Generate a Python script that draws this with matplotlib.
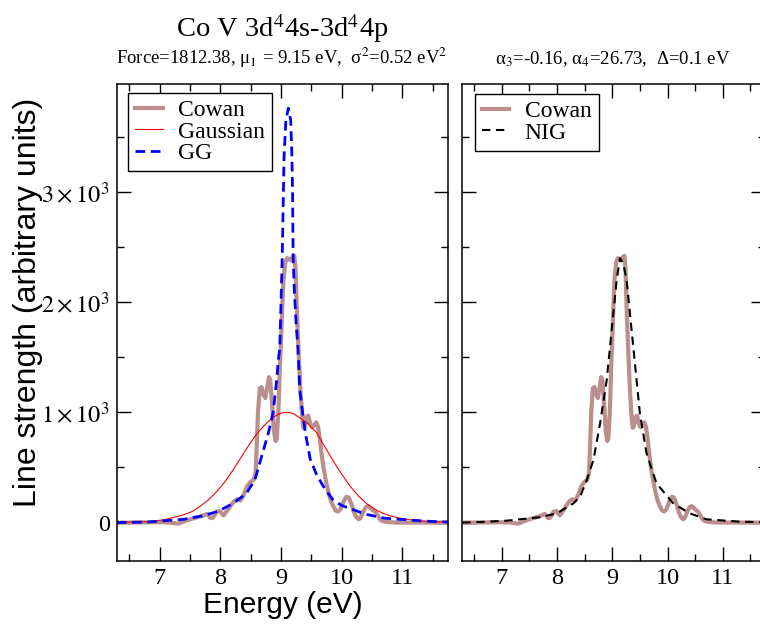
import matplotlib
matplotlib.use('Agg')
import matplotlib.pyplot as plt
from matplotlib.ticker import MultipleLocator, FixedLocator

plt.rcParams['font.family'] = ['Liberation Serif', 'DejaVu Serif']
plt.rcParams['mathtext.fontset'] = 'stix'

# Cowan spectrum (energy in eV, strength)
cowan_e = [6.29, 6.5, 6.8, 7.0, 7.15, 7.3, 7.4, 7.5, 7.6, 7.7, 7.78, 7.84, 7.88, 7.94, 7.99,
           8.05, 8.10, 8.16, 8.22, 8.28, 8.33, 8.38, 8.44, 8.50, 8.55, 8.58, 8.60, 8.62, 8.65,
           8.68, 8.71, 8.74, 8.77, 8.80, 8.82, 8.85, 8.88, 8.91, 8.93, 8.96, 8.98, 9.00, 9.02,
           9.04, 9.07, 9.10, 9.13, 9.16, 9.19, 9.22, 9.24, 9.26, 9.29, 9.32, 9.35, 9.37, 9.39,
           9.42, 9.45, 9.48, 9.51, 9.54, 9.58, 9.61, 9.64, 9.67, 9.70, 9.74, 9.78, 9.82, 9.86,
           9.90, 9.94, 9.98, 10.03, 10.08, 10.12, 10.16, 10.20, 10.24, 10.28, 10.31, 10.35,
           10.40, 10.44, 10.48, 10.52, 10.56, 10.60, 10.64, 10.68, 10.75, 10.9, 11.2, 11.5, 11.76]
cowan_s = [0, 0, 2, 3, 0, -10, 10, 30, 45, 60, 78, 40, 45, 100, 105,
           65, 100, 145, 190, 212, 200, 245, 330, 370, 390, 450, 700, 1000, 1220,
           1230, 1160, 1130, 1220, 1320, 1300, 1100, 850, 740, 760, 1050, 1400, 1650, 1950,
           2200, 2360, 2400, 2390, 2380, 2410, 2420, 2300, 1950, 1550, 1200, 960, 860, 870,
           960, 970, 900, 865, 880, 910, 870, 760, 620, 500, 380, 280, 200, 150,
           110, 100, 120, 190, 235, 225, 170, 100, 50, 30, 40, 90,
           140, 150, 130, 110, 95, 60, 25, 12, 5, 0, 0, 0, 0]

# Gaussian fit
gauss_e = [6.29, 6.6, 6.84, 7.1, 7.39, 7.53, 7.66, 7.8, 7.94, 8.08, 8.21, 8.35, 8.49, 8.62,
           8.76, 8.87, 8.98, 9.05, 9.12, 9.2, 9.31, 9.45, 9.59, 9.72, 9.86, 10.0, 10.14,
           10.28, 10.415, 10.55, 10.69, 10.82, 10.96, 11.1, 11.24, 11.5, 11.76]
gauss_s = [2, 5, 9, 28, 70, 100, 145, 205, 281, 375, 478, 600, 720, 820,
           901, 955, 990, 998, 1000, 990, 950, 895, 815, 690, 560, 440, 330,
           240, 170, 120, 82, 58, 40, 28, 18, 8, 3]

# GG fit
gg_e = [6.29, 6.8, 7.4, 7.7, 7.95, 8.2, 8.43, 8.57, 8.68, 8.79, 8.87, 8.93, 8.955, 8.98,
        9.02, 9.04, 9.05, 9.08, 9.12, 9.16, 9.18, 9.19, 9.20, 9.22, 9.25, 9.28, 9.31, 9.34,
        9.40, 9.48, 9.59, 9.73, 9.86, 10.0, 10.15, 10.4, 10.7, 11.0, 11.25, 11.5, 11.76]
gg_s = [0, 5, 30, 60, 100, 170, 265, 390, 600, 810, 1000, 1300, 1475, 1580,
        2410, 3015, 3317, 3650, 3760, 3650, 3317, 3015, 2410, 2100, 1800, 1580, 1200, 1067,
        820, 580, 430, 300, 205, 155, 125, 75, 40, 28, 18, 10, 5]

# NIG fit
nig_e = [6.29, 6.6, 7.09, 7.69, 8.0, 8.30, 8.42, 8.54, 8.66, 8.78, 8.90, 9.02, 9.08, 9.14,
         9.20, 9.26, 9.38, 9.50, 9.62, 9.80, 10.10, 10.40, 10.70, 11.31, 11.76]
nig_s = [0, 5, 17, 48, 84, 175, 236, 387, 568, 900, 1293, 1897, 2200, 2400,
         2350, 2200, 1595, 991, 629, 356, 175, 84, 30, 8, 3]

y_ticks = [0, 1000, 2000, 3000]
y_labels = ['0', r'$1\times10^3$', r'$2\times10^3$', r'$3\times10^3$']

cowan_color = '#bc8f8f'

fig = plt.figure(figsize=(7.6, 6.26), dpi=100)
ax1 = fig.add_axes([0.1536, 0.1045, 0.4363, 0.7613])
ax2 = fig.add_axes([0.6084, 0.1045, 0.398, 0.7613])

ax1.plot(cowan_e, cowan_s, color=cowan_color, lw=3, label='Cowan')
ax1.plot(gauss_e, gauss_s, color='red', lw=0.8, label='Gaussian')
ax1.plot(gg_e, gg_s, color='blue', lw=2, dashes=(3.5, 2), label='GG')

ax2.plot(cowan_e, cowan_s, color=cowan_color, lw=3, label='Cowan')
ax2.plot(nig_e, nig_s, color='black', lw=1.5, dashes=(4, 2.7), label='NIG')

for ax, anchor in ((ax1, (0.035, 0.982)), (ax2, (0.042, 0.980))):
    ax.set_xlim(6.29, 11.76)
    ax.set_ylim(-345, 3980)
    ax.xaxis.set_major_locator(FixedLocator([7, 8, 9, 10, 11]))
    ax.xaxis.set_minor_locator(MultipleLocator(0.5))
    ax.yaxis.set_major_locator(FixedLocator(y_ticks))
    ax.yaxis.set_minor_locator(MultipleLocator(500))
    ax.tick_params(which='both', direction='in', top=True, right=True, labelsize=17.5, pad=5)
    ax.tick_params(which='major', length=10, width=1)
    ax.tick_params(which='minor', length=5, width=1)
    for sp in ax.spines.values():
        sp.set_linewidth(1.1)
    leg = ax.legend(loc='upper left', bbox_to_anchor=anchor, borderaxespad=0,
                    fontsize=17, fancybox=False, edgecolor='black', framealpha=1,
                    handlelength=1.15, borderpad=0.3, labelspacing=0.0,
                    handletextpad=0.65)
    leg.get_frame().set_linewidth(1.0)

ax1.set_yticklabels(y_labels)
ax2.set_yticklabels([])

ax1.set_ylabel('Line strength (arbitrary units)', family='Liberation Sans', fontsize=23)
ax1.yaxis.set_label_coords(-0.222, 0.542)
ax1.set_xlabel('Energy (eV)', family='Liberation Sans', fontsize=21.5, labelpad=2)

fig.text(0.371, 0.941, r'Co V 3d$^4$4s-3d$^4$4p', ha='center', va='baseline', fontsize=20.5)
fig.text(0.371, 0.898, r'Force=1812.38, μ$_1$ = 9.15 eV,  σ$^2$=0.52 eV$^2$',
         ha='center', va='baseline', fontsize=13.5)
fig.text(0.806, 0.898, r'α$_3$=-0.16, α$_4$=26.73,  Δ=0.1 eV',
         ha='center', va='baseline', fontsize=13.5)

fig.savefig('out.png', dpi=100)
